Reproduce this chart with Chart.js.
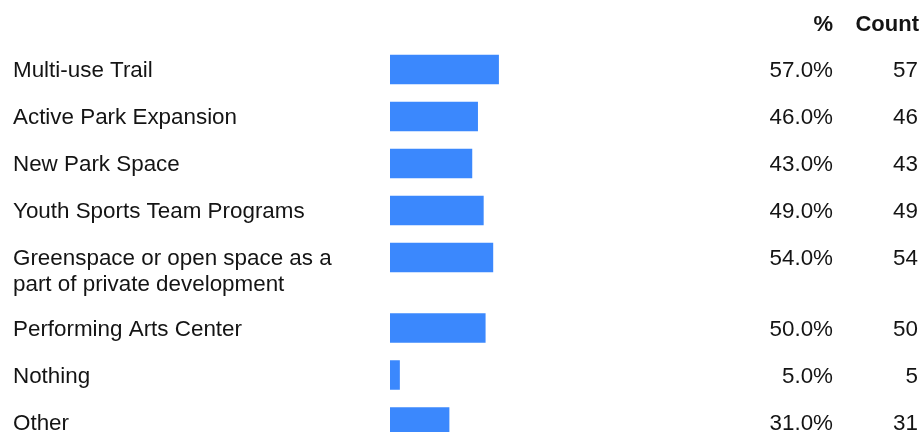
<!DOCTYPE html>
<html><head><meta charset="utf-8">
<script src="https://cdn.jsdelivr.net/npm/chart.js@4/dist/chart.umd.min.js"></script>
<style>html,body{margin:0;padding:0;background:#fff;overflow:hidden}</style>
</head><body>
<canvas id="c" width="922" height="432"></canvas>
<script>
const categories = [
  "Multi-use Trail",
  "Active Park Expansion",
  "New Park Space",
  "Youth Sports Team Programs",
  ["Greenspace or open space as a", "part of private development"],
  "Performing Arts Center",
  "Nothing",
  "Other"
];
const percentValues = [57, 46, 43, 49, 54, 50, 5, 31];
const countValues = [57, 46, 43, 49, 54, 50, 5, 31];
const columnHeaders = ["%", "Count"];

// Row positions derived from the number of label lines (extra line = half a row)
const rowPositions = [];
(function(){ let p = 0; categories.forEach(c => { rowPositions.push(p); const n = Array.isArray(c) ? c.length : 1; p += 1 + 0.5 * (n - 1); }); })();

const FONT = '"Liberation Sans", Arial, sans-serif';
const TEXT = '#141414';

const tablePlugin = {
  id: 'tableText',
  afterDatasetsDraw(chart) {
    const ctx = chart.ctx;
    const ys = chart.scales.y;
    ctx.save();
    ctx.fillStyle = TEXT;
    ctx.textBaseline = 'alphabetic';
    ctx.font = 'bold 22px ' + FONT;
    ctx.textAlign = 'right';
    ctx.fillText(columnHeaders[0], 833, 31);
    ctx.fillText(columnHeaders[1], 919, 31);
    ctx.font = '22.4px ' + FONT;
    categories.forEach((c, i) => {
      const cy = ys.getPixelForValue(rowPositions[i]);
      const base = cy + 8;
      const lines = Array.isArray(c) ? c : [c];
      ctx.textAlign = 'left';
      lines.forEach((ln, k) => ctx.fillText(ln, 13, base + k * 26));
      ctx.textAlign = 'right';
      ctx.fillText(percentValues[i].toFixed(1) + '%', 833, base);
      ctx.fillText(String(countValues[i]), 918, base);
    });
    ctx.restore();
  }
};

new Chart(document.getElementById('c'), {
  type: 'bar',
  data: {
    datasets: [{
      data: percentValues.map((v, i) => ({ x: v, y: rowPositions[i] })),
      backgroundColor: '#3B88FD',
      borderWidth: 0,
      barThickness: 29
    }]
  },
  options: {
    indexAxis: 'y',
    responsive: false,
    animation: false,
    devicePixelRatio: 1,
    layout: { padding: { left: 390, right: 341.5, top: 46, bottom: 0 } },
    scales: {
      x: { type: 'linear', min: 0, max: 100, display: false, offset: false },
      y: { type: 'linear', reverse: true, min: -0.5, max: 7.713, display: false, offset: false }
    },
    plugins: { legend: { display: false }, tooltip: { enabled: false } }
  },
  plugins: [tablePlugin]
});
</script>
</body></html>
